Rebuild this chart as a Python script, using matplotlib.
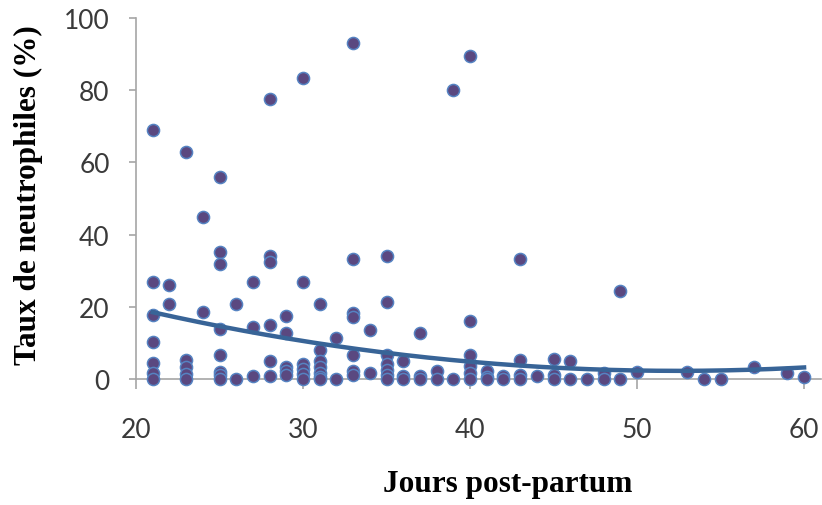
import matplotlib.pyplot as plt
import numpy as np

# jours post-partum et taux de neutrophiles (%)
jours = [
    21, 21, 21, 21, 21, 21, 21,
    22, 22,
    23, 23, 23, 23, 23,
    24, 24,
    25, 25, 25, 25, 25, 25, 25, 25,
    26, 26,
    27, 27, 27,
    28, 28, 28, 28, 28, 28,
    29, 29, 29, 29, 29,
    30, 30, 30, 30, 30, 30,
    31, 31, 31, 31, 31, 31, 31,
    32, 32,
    33, 33, 33, 33, 33, 33, 33,
    34, 34,
    35, 35, 35, 35, 35, 35, 35,
    36, 36, 36,
    37, 37, 37,
    38, 38,
    39, 39,
    40, 40, 40, 40, 40, 40,
    41, 41, 41,
    42, 42,
    43, 43, 43, 43,
    44,
    45, 45, 45,
    46, 46,
    47,
    48, 48,
    49, 49,
    50, 53, 54, 55, 57, 59, 60,
]
taux = [
    69, 27, 17.7, 10.2, 4.3, 1.8, 0,
    25.9, 20.8,
    63, 5.3, 3.2, 1.4, 0,
    44.8, 18.6,
    56, 35.3, 31.9, 13.8, 6.7, 2, 1, 0,
    20.8, 0,
    27, 14.3, 0.9,
    77.6, 34.2, 32.5, 15, 5.1, 0.9,
    17.4, 12.7, 3.2, 2.2, 1,
    83.5, 27, 4.2, 2.8, 1.4, 0,
    20.8, 8.1, 5.1, 3.2, 1.8, 0.5, 0,
    11.3, 0,
    93, 33.2, 18.2, 17.1, 6.7, 2.3, 1,
    13.7, 1.6,
    34.2, 21.2, 6.7, 4.2, 2.4, 1, 0,
    4.9, 0.9, 0,
    12.7, 0.9, 0,
    2.2, 0,
    80, 0,
    89.5, 16.2, 6.7, 3.7, 1.8, 0,
    2.2, 0.6, 0,
    0.9, 0,
    33.2, 5.3, 1, 0,
    0.9,
    5.5, 1, 0,
    5.1, 0,
    0,
    1.8, 0,
    24.5, 0,
    2, 2, 0, 0, 3.2, 1.7, 0.5,
]
# courbe de tendance polynomiale (ordre 2), coefficients estimes sur le graphique
tendance_coef = [0.01644, -1.7239, 47.45]
x_ticks = [20, 30, 40, 50, 60]
y_ticks = [0, 20, 40, 60, 80, 100]

fig = plt.figure(figsize=(8.22, 5.06), dpi=100)
ax = fig.add_axes([0.1655, 0.249, 0.833, 0.7135])

ax.scatter(jours, taux, s=76, color="#5a4880", edgecolors="#5583c2",
           linewidths=1.1, zorder=3, clip_on=False)

xs = np.linspace(min(jours), max(jours), 200)
ax.plot(xs, np.polyval(tendance_coef, xs), color="#386497", linewidth=3.2,
        zorder=4)

ax.set_xlim(20, 61)
ax.set_ylim(0, 100)
ax.set_xticks(x_ticks)
ax.set_yticks(y_ticks)

for side in ["top", "right"]:
    ax.spines[side].set_visible(False)
for side in ["left", "bottom"]:
    ax.spines[side].set_color("#a6a6a6")
    ax.spines[side].set_linewidth(1.2)

ax.tick_params(axis="x", direction="out", length=7, width=1.2,
               color="#a6a6a6", pad=20, labelsize=19, labelcolor="#3a3a3a")
ax.tick_params(axis="y", direction="out", length=5, width=1.2,
               color="#a6a6a6", pad=14, labelsize=19, labelcolor="#3a3a3a")
for lab in ax.get_xticklabels() + ax.get_yticklabels():
    lab.set_family(["Lato", "DejaVu Sans"])
    lab.set_fontweight("normal")

fig.text(28 / 822, 1 - 195 / 506, "Taux de neutrophiles (%)", rotation=90,
         ha="center", va="center", fontsize=22.5, fontweight="bold",
         family=["Liberation Serif", "DejaVu Serif"])
fig.text(508 / 822, 1 - 485 / 506, "Jours post-partum",
         ha="center", va="center", fontsize=22.5, fontweight="bold",
         family=["Liberation Serif", "DejaVu Serif"])

fig.savefig("out.png", dpi=100)
